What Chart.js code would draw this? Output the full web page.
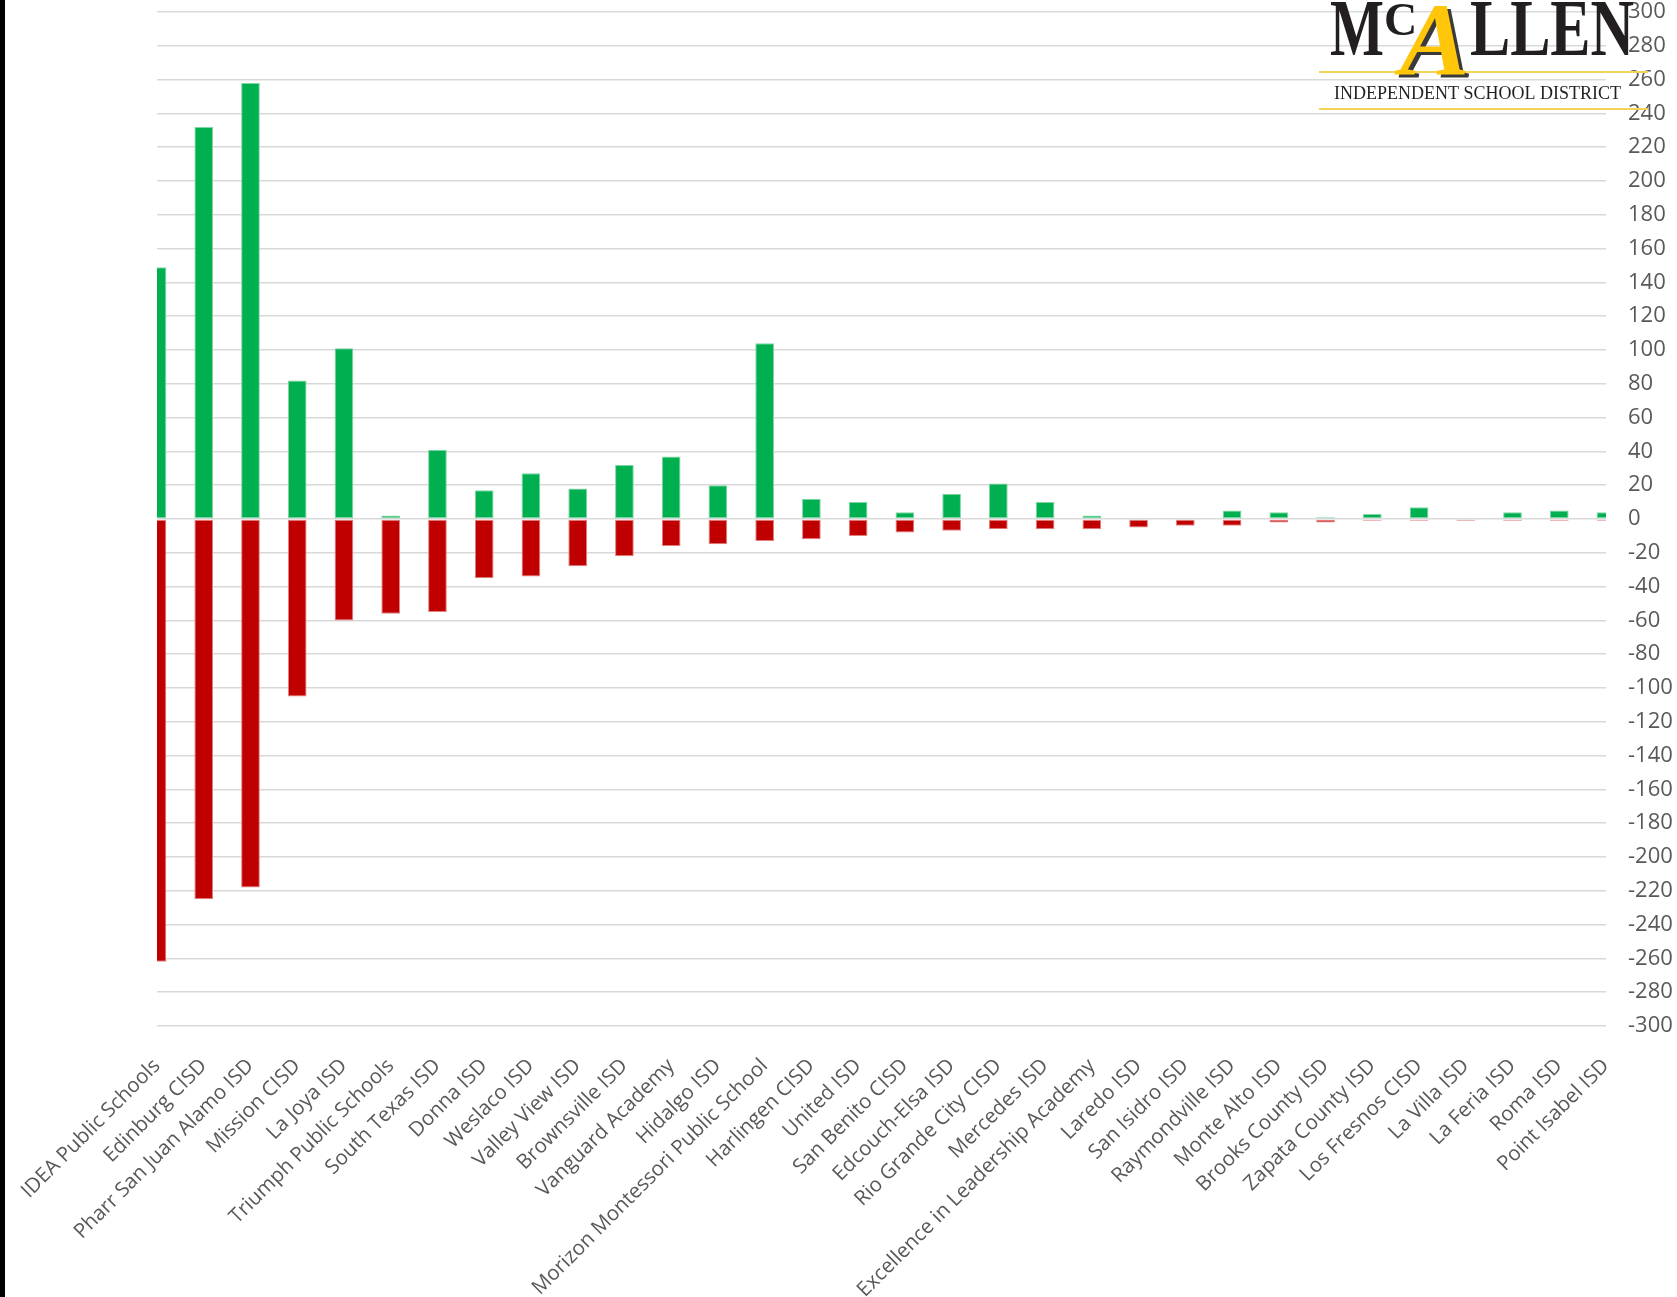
<!DOCTYPE html>
<html>
<head>
<meta charset="utf-8">
<script src="https://cdn.jsdelivr.net/npm/chart.js@4/dist/chart.umd.min.js"></script>
<style>
  html, body { margin: 0; padding: 0; background: #fff; }
</style>
</head>
<body>
<canvas id="bar-chart" width="1677" height="1297"></canvas>
<script>
// districts, in the order they appear on the chart
var districts = ["IDEA Public Schools", "Edinburg CISD", "Pharr San Juan Alamo ISD", "Mission CISD",
  "La Joya ISD", "Triumph Public Schools", "South Texas ISD", "Donna ISD", "Weslaco ISD",
  "Valley View ISD", "Brownsville ISD", "Vanguard Academy", "Hidalgo ISD",
  "Morizon Montessori Public School", "Harlingen CISD", "United ISD", "San Benito CISD",
  "Edcouch-Elsa ISD", "Rio Grande City CISD", "Mercedes ISD", "Excellence in Leadership Academy",
  "Laredo ISD", "San Isidro ISD", "Raymondville ISD", "Monte Alto ISD", "Brooks County ISD",
  "Zapata County ISD", "Los Fresnos CISD", "La Villa ISD", "La Feria ISD", "Roma ISD",
  "Point Isabel ISD"];

// students gained (green) and lost (red)
var gained = [149, 232, 258, 82, 101, 2, 41, 17, 27, 18, 32, 37, 20, 104, 12, 10, 4, 15, 21, 10, 2,
  0, 0, 5, 4, 1, 3, 7, 0, 4, 5, 4];
var lost = [-262, -225, -218, -105, -60, -56, -55, -35, -34, -28, -22, -16, -15, -13, -12, -10, -8,
  -7, -6, -6, -6, -5, -4, -4, -2, -2, -1, -1, -1, -1, -1, -1];

// y axis range and tick step
var yRange = [-300, 300];
var yStep = 20;

var ctxBar = document.getElementById("bar-chart");

// white page + black strip on the left edge
var backPlugin = {
  id: 'back',
  beforeDraw: function(chart) {
    var ctx = chart.ctx;
    ctx.save();
    ctx.fillStyle = '#ffffff';
    ctx.fillRect(0, 0, chart.width, chart.height);
    ctx.fillStyle = '#000000';
    ctx.fillRect(0, 0, 5, chart.height);
    ctx.restore();
  }
};

// McAllen ISD logo, top right
var logoPlugin = {
  id: 'logo',
  afterDraw: function(chart) {
    var ctx = chart.ctx;
    ctx.save();
    // yellow rules
    ctx.strokeStyle = '#f3d35a';
    ctx.lineWidth = 2;
    ctx.beginPath();
    ctx.moveTo(1319, 72); ctx.lineTo(1648, 72);
    ctx.moveTo(1319, 109); ctx.lineTo(1648, 109);
    ctx.stroke();

    ctx.fillStyle = '#231f20';
    ctx.textBaseline = 'alphabetic';
    ctx.textAlign = 'left';
    ctx.font = 'bold 80px "Liberation Serif"';
    ctx.fillText('M', 1330, 55, 54);
    ctx.font = 'bold 46px "Liberation Serif"';
    ctx.fillText('C', 1384, 35, 34);
    ctx.font = 'bold 80px "Liberation Serif"';
    ctx.fillText('LLEN', 1470, 55, 164);

    ctx.font = '18px "Liberation Serif"';
    ctx.fillText('INDEPENDENT SCHOOL DISTRICT', 1334, 99, 299);

    // the script "A"
    ctx.font = 'italic bold 104px "Liberation Serif"';
    ctx.fillStyle = '#3a3a3a';
    ctx.fillText('A', 1404, 78, 72);
    ctx.fillStyle = '#ffc60a';
    ctx.fillText('A', 1400, 75, 72);
    ctx.restore();
  }
};

var chartGraph = new Chart(ctxBar, {
  type: 'bar',
  data: {
    labels: districts,
    datasets: [
      {
        label: "Gained",
        data: gained,
        backgroundColor: '#00b050',
        borderColor: '#7fd6a3',
        borderWidth: 1,
        borderSkipped: false,
        clip: 0
      },
      {
        label: "Lost",
        data: lost,
        backgroundColor: '#c00000',
        borderColor: '#e38080',
        borderWidth: 1,
        borderSkipped: false,
        clip: 0
      }
    ]
  },
  options: {
    responsive: false,
    animation: false,
    devicePixelRatio: 1,
    barPercentage: 0.4,
    categoryPercentage: 1.0,
    layout: {
      padding: { left: 157, top: 12, right: 0, bottom: 0 }
    },
    plugins: {
      legend: { display: false },
      title: { display: false },
      tooltip: { enabled: false }
    },
    scales: {
      x: {
        stacked: true,
        offset: false,
        grid: { display: false },
        border: { display: false },
        ticks: {
          autoSkip: false,
          maxRotation: 45,
          minRotation: 45,
          padding: 20,
          color: '#595959',
          font: { family: 'Open Sans', size: 20.5 }
        },
        afterFit: function(scale) {
          scale.height = 271;
          scale.paddingLeft = 0;
          scale.paddingRight = 0;
        }
      },
      y: {
        position: 'right',
        stacked: true,
        min: yRange[0],
        max: yRange[1],
        grid: { color: '#d9d9d9', lineWidth: 1.5, drawTicks: false },
        border: { display: false },
        ticks: {
          stepSize: yStep,
          padding: 22,
          color: '#595959',
          font: { family: 'Open Sans', size: 22 }
        },
        afterFit: function(scale) {
          scale.width = 71;
          scale.paddingTop = 0;
          scale.paddingBottom = 0;
        }
      }
    }
  },
  plugins: [backPlugin, logoPlugin]
});
</script>
</body>
</html>
